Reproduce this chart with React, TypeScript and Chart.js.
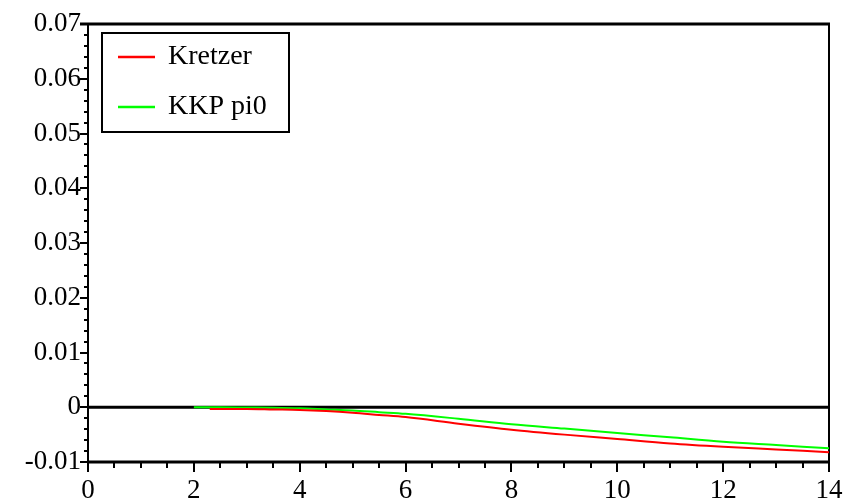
import React, { useEffect, useRef } from "react";
import { Chart, registerables } from "chart.js";

Chart.register(...registerables);

const seriesNames = ["Kretzer", "KKP pi0"];
const seriesColors = ["#ff0000", "#00ff00"];

const kretzerX = [2.3, 3, 3.5, 4, 4.5, 5, 5.5, 6, 7, 8, 9, 10, 11, 12, 13, 14];
const kretzerY = [-0.0003, -0.0003, -0.0004, -0.0005, -0.0007, -0.001, -0.0014, -0.0018, -0.003, -0.0041, -0.005, -0.0058, -0.0066, -0.0072, -0.0077, -0.0082];

const kkpX = [2, 2.5, 3, 3.5, 4, 4.5, 5, 5.5, 6, 7, 8, 9, 10, 11, 12, 13, 14];
const kkpY = [0, 0, -0.00005, -0.0001, -0.0002, -0.0004, -0.0006, -0.0009, -0.0012, -0.0021, -0.0031, -0.0039, -0.0047, -0.0055, -0.0063, -0.0069, -0.0075];

const xMin = 0, xMax = 14, xStep = 2, xMinor = 0.5;
const yMin = -0.01, yMax = 0.07, yStep = 0.01, yMinor = 0.002;

const FONT = "'Liberation Serif', 'DejaVu Serif', serif";

const framePlugin = {
  id: "frame",
  beforeDatasetsDraw(chart: any) {
    const { ctx, chartArea: a, scales } = chart;
    const xs = scales.x, ys = scales.y;
    ctx.save();
    ctx.strokeStyle = "#000";
    ctx.lineWidth = 2;
    for (let v = xMin; v <= xMax + 1e-9; v += xMinor) {
      const px = Math.round(xs.getPixelForValue(v));
      const major = Math.abs(v / xStep - Math.round(v / xStep)) < 1e-6;
      ctx.beginPath();
      ctx.moveTo(px, a.bottom);
      ctx.lineTo(px, a.bottom + (major ? 10 : 6));
      ctx.stroke();
    }
    for (let i = 0; i <= Math.round((yMax - yMin) / yMinor); i++) {
      const v = yMin + i * yMinor;
      const py = Math.round(ys.getPixelForValue(v));
      const major = i % 5 === 0;
      ctx.beginPath();
      ctx.moveTo(a.left - (major ? 8 : 4), py);
      ctx.lineTo(a.left + (major ? 0 : 1), py);
      ctx.stroke();
    }
    ctx.lineWidth = 2;
    ctx.beginPath();
    ctx.moveTo(a.left, a.top);
    ctx.lineTo(a.left, a.bottom);
    ctx.moveTo(a.right, a.top);
    ctx.lineTo(a.right, a.bottom);
    ctx.stroke();
    ctx.lineWidth = 3;
    const zy = ys.getPixelForValue(0);
    ctx.beginPath();
    ctx.moveTo(a.left - 8, a.top);
    ctx.lineTo(a.right + 1, a.top);
    ctx.moveTo(a.left, a.bottom);
    ctx.lineTo(a.right + 1, a.bottom);
    ctx.moveTo(a.left, zy);
    ctx.lineTo(a.right + 1, zy);
    ctx.stroke();
    ctx.restore();
  },
  afterDatasetsDraw(chart: any) {
    const { ctx, chartArea: a } = chart;
    ctx.save();
    const bx = a.left + 14, by = a.top + 9, bw = 187, bh = 99;
    ctx.fillStyle = "#fff";
    ctx.fillRect(bx, by, bw, bh);
    ctx.strokeStyle = "#000";
    ctx.lineWidth = 2;
    ctx.strokeRect(bx, by, bw, bh);
    ctx.font = `28px ${FONT}`;
    ctx.textBaseline = "middle";
    ctx.textAlign = "left";
    seriesNames.forEach((n, i) => {
      const y = by + 24 + i * 50;
      ctx.strokeStyle = seriesColors[i];
      ctx.lineWidth = 2.5;
      ctx.beginPath();
      ctx.moveTo(bx + 16, y);
      ctx.lineTo(bx + 53, y);
      ctx.stroke();
      ctx.fillStyle = "#000";
      ctx.fillText(n, bx + 66, y);
    });
    ctx.restore();
  },
};

export default function App() {
  const ref = useRef<HTMLCanvasElement>(null);
  useEffect(() => {
    if (!ref.current) return;
    const chart = new Chart(ref.current, {
      type: "line",
      data: {
        datasets: [
          {
            label: seriesNames[0],
            data: kretzerX.map((x, i) => ({ x, y: kretzerY[i] })),
            borderColor: seriesColors[0],
            borderWidth: 2,
            pointRadius: 0,
            cubicInterpolationMode: "monotone",
          },
          {
            label: seriesNames[1],
            data: kkpX.map((x, i) => ({ x, y: kkpY[i] })),
            borderColor: seriesColors[1],
            borderWidth: 2,
            pointRadius: 0,
            cubicInterpolationMode: "monotone",
          },
        ],
      },
      options: {
        animation: false,
        responsive: false,
        maintainAspectRatio: false,
        layout: { padding: { left: 0, right: 15, top: 24, bottom: 0 } },
        plugins: { legend: { display: false }, tooltip: { enabled: false } },
        scales: {
          x: {
            type: "linear",
            min: xMin,
            max: xMax,
            grid: { display: false, drawTicks: false },
            border: { display: false },
            ticks: {
              stepSize: xStep,
              color: "#000",
              font: { family: FONT, size: 27 },
              padding: 13,
              maxRotation: 0,
            },
            afterFit: (s: any) => {
              s.height = 41;
              s.paddingLeft = 0;
              s.paddingRight = 0;
            },
          },
          y: {
            min: yMin,
            max: yMax,
            grid: { display: false, drawTicks: false },
            border: { display: false },
            ticks: {
              stepSize: yStep,
              color: "#000",
              font: { family: FONT, size: 27 },
              padding: 7,
              callback: (v: any) => String(Number(Number(v).toFixed(2))),
            },
            afterFit: (s: any) => {
              s.width = 88;
              s.paddingTop = 0;
              s.paddingBottom = 0;
            },
          },
        },
      },
      plugins: [framePlugin],
    });
    return () => chart.destroy();
  }, []);
  return (
    <div style={{ position: "absolute", left: 0, top: 0, width: 844, height: 503, background: "#fff" }}>
      <canvas ref={ref} width={844} height={503} />
    </div>
  );
}
